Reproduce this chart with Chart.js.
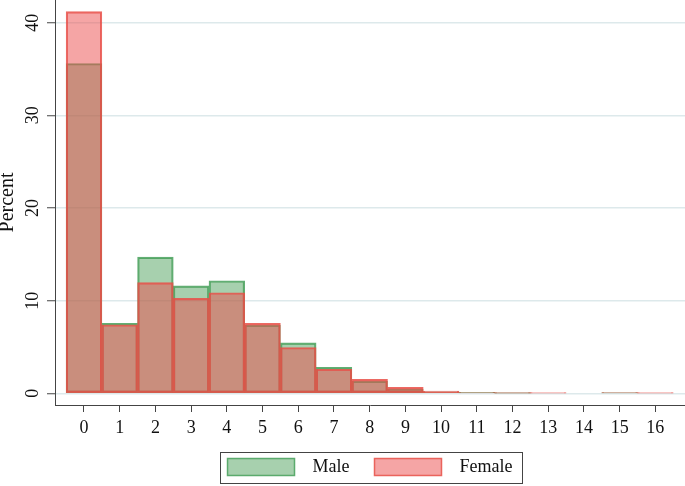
<!DOCTYPE html>
<html>
<head>
<meta charset="utf-8">
<title>Percent by sex</title>
<script src="https://cdn.jsdelivr.net/npm/chart.js"></script>
<style>
  body { margin: 0; background: #fff; }
  #mycanvas { display: block; }
</style>
</head>
<body>
<canvas id="mycanvas" width="685" height="486"></canvas>
<script>
// histogram bins (count value) and percent per sex
var bins = [0, 1, 2, 3, 4, 5, 6, 7, 8, 9, 10, 11, 12, 13, 14, 15, 16];
var male_pct = [35.6, 7.55, 14.7, 11.6, 12.15, 7.35, 5.45, 2.8, 1.3, 0.45, 0.15, 0.1, 0.02, 0, 0, 0.05, 0];
var female_pct = [41.2, 7.4, 11.95, 10.25, 10.85, 7.55, 4.95, 2.6, 1.5, 0.65, 0.25, 0.05, 0.03, 0.02, 0, 0.05, 0.02];
var x_ticks = [0, 1, 2, 3, 4, 5, 6, 7, 8, 9, 10, 11, 12, 13, 14, 15, 16];
var y_ticks = [0, 10, 20, 30, 40];

Chart.defaults.font.family = '"Liberation Serif", "Times New Roman", serif';
Chart.defaults.font.size = 18;
Chart.defaults.color = '#111';

function points(values) {
	var out = [];
	for (var i in bins) {
		out.push({x: bins[i], y: values[i]});
	}
	return out;
}

// box round the legend, like the stata one
var legendFrame = {
	id: 'legendFrame',
	afterDraw: function(chart) {
		var hb = chart.legend.legendHitBoxes;
		if (!hb || !hb.length) return;
		var first = hb[0], last = hb[hb.length - 1];
		var ctx = chart.ctx;
		var l = Math.round(first.left - 8) + 0.5;
		var r = Math.round(last.left + last.width + 10) + 0.5;
		var t = Math.round(first.top - 6) + 0.5;
		var b = Math.round(first.top + first.height + 7) + 0.5;
		ctx.save();
		ctx.strokeStyle = '#444';
		ctx.lineWidth = 1;
		ctx.strokeRect(l, t, r - l, b - t);
		ctx.restore();
	}
};

var chartdata = {
	datasets: [
		{
			label: "Male",
			data: points(male_pct),
			backgroundColor: "rgba(60, 150, 75, 0.45)",
			borderColor: "rgba(70, 160, 90, 0.85)",
			borderWidth: 1.5,
			borderSkipped: false,
			grouped: false,
			categoryPercentage: 1,
			barPercentage: 1,
			order: 2
		},
		{
			label: "Female",
			data: points(female_pct),
			backgroundColor: "rgba(235, 75, 75, 0.5)",
			borderColor: "rgba(232, 80, 72, 0.85)",
			borderWidth: 1.5,
			borderSkipped: false,
			grouped: false,
			categoryPercentage: 1,
			barPercentage: 1,
			order: 1
		}
	]
};

var ctx = document.getElementById('mycanvas');

var histo = new Chart(ctx, {
	type: 'bar',
	data: chartdata,
	plugins: [legendFrame],
	options: {
		responsive: false,
		animation: false,
		layout: { padding: { left: 0, right: 0, top: 0, bottom: 0 } },
		scales: {
			x: {
				type: 'linear',
				offset: false,
				min: -0.812,
				max: 16.83,
				afterBuildTicks: function(axis) {
					axis.ticks = x_ticks.map(function(v) { return {value: v}; });
				},
				afterFit: function(axis) {
					axis.height = 28;
					axis.paddingLeft = 0;
					axis.paddingRight = 0;
				},
				grid: { offset: false, drawOnChartArea: false, tickLength: 7, tickColor: '#444' },
				border: { color: '#444', width: 1 },
				ticks: { autoSkip: false, maxRotation: 0, padding: 5 }
			},
			y: {
				type: 'linear',
				min: -1.26,
				max: 42.45,
				afterBuildTicks: function(axis) {
					axis.ticks = y_ticks.map(function(v) { return {value: v}; });
				},
				afterFit: function(axis) {
					axis.width = 55;
					axis.paddingTop = 0;
					axis.paddingBottom = 0;
				},
				grid: { color: '#dde9eb', lineWidth: 1.5, tickLength: 8, tickColor: '#444', tickWidth: 1 },
				border: { color: '#444', width: 1 },
				ticks: { minRotation: 90, maxRotation: 90, crossAlign: 'center', padding: 5 },
				title: {
					display: true,
					text: 'Percent',
					font: { size: 20, lineHeight: 1 },
					padding: { top: -2, bottom: 0 }
				}
			}
		},
		plugins: {
			tooltip: { enabled: false },
			legend: {
				position: 'bottom',
				fullSize: false,
				reverse: true,
				labels: {
					boxWidth: 67,
					boxHeight: 17,
					padding: 25,
					generateLabels: function(chart) {
						var items = Chart.defaults.plugins.legend.labels.generateLabels(chart);
						items.forEach(function(it) { it.text = '  ' + it.text; });
						return items;
					}
				}
			}
		}
	}
});
</script>
</body>
</html>
